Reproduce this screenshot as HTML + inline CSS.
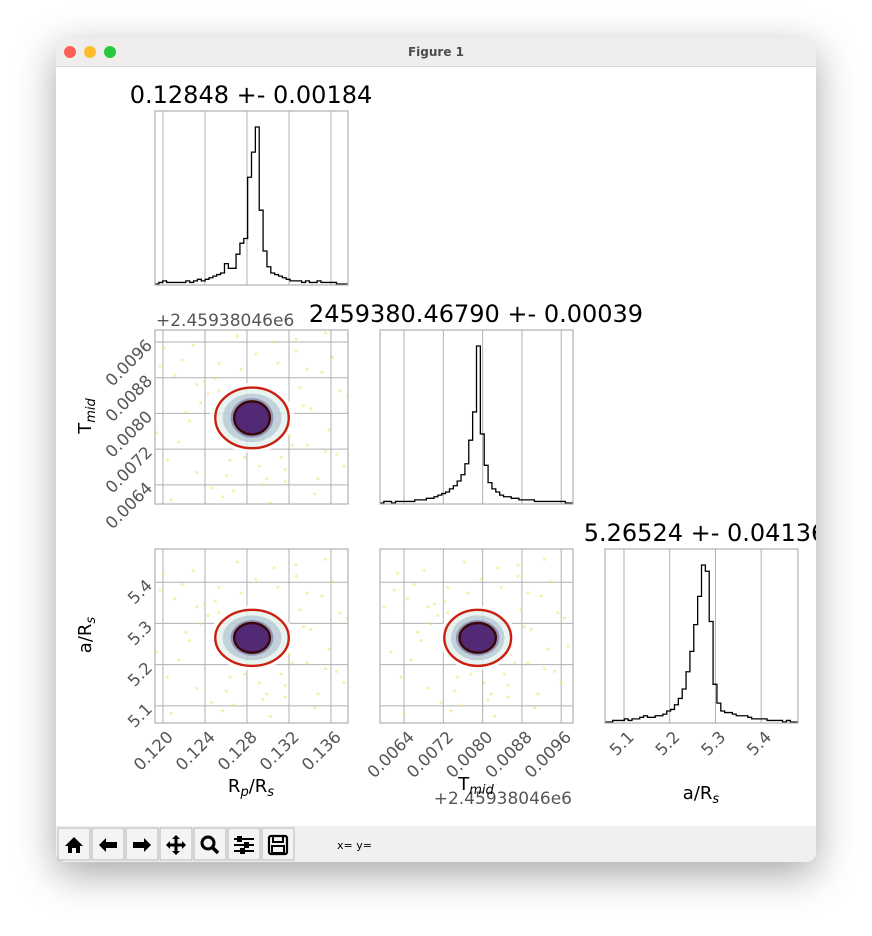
<!DOCTYPE html>
<html><head><meta charset="utf-8">
<style>
html,body{margin:0;padding:0;background:#fff;width:872px;height:936px;overflow:hidden;font-family:"DejaVu Sans","Liberation Sans",sans-serif;}
#win{position:absolute;left:56px;top:38px;width:760px;height:824px;border-radius:10px;background:#fff;box-shadow:0 12px 40px rgba(0,0,0,0.35);overflow:hidden;}
#tb{position:absolute;left:0;top:0;width:760px;height:28px;background:#f0eeec;border-bottom:1px solid #d8d6d4;}
#tbar{position:absolute;left:0;top:788px;width:760px;height:36px;background:#f0f0f0;}
svg{position:absolute;left:0;top:0;}
</style></head><body>
<div id="win">
 <div id="tb"></div>
 <div id="tbar"></div>
</div>
<svg id="chart" width="872" height="936"></svg>
<script>
// ---- data ----
const rpTicks=[0.120,0.124,0.128,0.132,0.136];
const tTicks=[0.0064,0.0072,0.0080,0.0088,0.0096];
const aTicks=[5.1,5.2,5.3,5.4];
const rpTickLabels=["0.120","0.124","0.128","0.132","0.136"];
const tTickLabels=["0.0064","0.0072","0.0080","0.0088","0.0096"];
const aTickLabels=["5.1","5.2","5.3","5.4"];
const rpHist=[0,1,2,1,1,1,1,1,2,1,2,3,2,3,4,5,6,7,13,10,10,19,26,29,68,84,100,47,21,11,7,6,5,4,3,2,2,2,1,2,1,1,2,1,1,1,1,0,0,0];
const tHist=[0,1,1,0,1,1,1,1,1,2,2,2,3,3,4,5,6,7,9,11,14,18,25,40,58,100,44,24,13,9,7,5,4,4,3,3,2,2,2,2,1,1,1,1,1,1,1,1,0,0];
const aHist=[0,0,1,1,1,2,1,2,2,3,4,3,3,4,4,5,7,8,11,15,21,32,45,62,80,100,96,64,24,12,7,6,6,5,4,4,4,3,2,2,2,2,1,1,1,1,0,1,0,0];
const means={rp:0.12848,t:0.00790,a:5.265};
const darkHalf={rp:0.0017,t:0.00037,a:0.036};
const redHalf={rp:0.0035,t:0.00068,a:0.068};
// outlier points in units of red-contour half widths
const outU=[-2.1,1.8,-1.5,2.4,0.6,-2.6,1.2,-0.8,2.0,-1.9,0.3,2.7,-2.3,1.5,-0.4,-1.2,2.2,-2.8,0.9,1.7,-0.2,-1.6,2.5,-0.9,1.1,-2.4,0.5,2.9,-1.1,1.4,
 -1.3,1.3,-0.6,0.8,-1.8,2.1,-0.3,1.6,-2.0,0.2,1.9,-1.4,0.7,-0.7,2.3,-2.5,1.0,-1.0,0.4,-1.7,1.2,-0.5,2.6,-2.2,0.1,1.5,-1.5,0.9,-0.9,2.0];
const outV=[1.4,-2.0,-1.8,0.9,2.5,-0.5,2.2,-2.6,-1.1,1.9,-2.2,-0.3,-1.4,1.6,2.7,0.8,2.0,1.1,-1.7,-2.5,-1.3,2.4,-1.6,1.8,-0.9,2.3,-2.8,1.3,-2.3,0.4,
 1.2,1.0,-1.4,-1.3,0.2,-0.4,1.6,0.3,-0.8,-1.6,1.5,0.5,1.8,-1.9,-1.2,1.7,-0.6,1.3,-2.0,-0.1,2.6,-2.4,0.7,-2.7,2.1,-0.9,1.1,-2.1,0.9,2.8];

const NS='http://www.w3.org/2000/svg';
const svg=document.getElementById('chart');
function mk(t,a,p){const e=document.createElementNS(NS,t);for(const k in a)e.setAttribute(k,a[k]);(p||svg).appendChild(e);return e;}
function lin(d0,d1,r0,r1){return v=>r0+(v-d0)/(d1-d0)*(r1-r0);}
const rng={rp:[0.11924,0.13762],tx:[0.00591,0.00984],ty:[0.00597,0.00987],a:[5.0585,5.4805]};
const cols=[155,380,605], rows=[111,330,549], W=193, H=174;
const gridC='#b0b0b0', tickC='#555';

// ---- window chrome ----
[['#fe5f57',70],['#febc2e',90],['#28c840',110]].forEach((c,i)=>{
 const e=mk('circle',{cx:c[1],cy:52,r:6,fill:c[0]});
 
 
});
let tt=mk('text',{x:436,y:56,'text-anchor':'middle','font-size':12,'font-weight':'bold',fill:'#4d4d4d'});tt.textContent='Figure 1';


function axes(x0,y0,sx,sy,xt,yt,name){
 const g=mk('g',{});
 
 if(xt)xt.forEach(v=>mk('line',{x1:sx(v),x2:sx(v),y1:y0,y2:y0+H,stroke:gridC,'stroke-width':1},g));
 if(yt)yt.forEach(v=>mk('line',{x1:x0,x2:x0+W,y1:sy(v),y2:sy(v),stroke:gridC,'stroke-width':1},g));
 return g;
}
function frame(x0,y0){mk('rect',{x:x0,y:y0,width:W,height:H,fill:'none',stroke:gridC,'stroke-width':1.2});}
function xlabels(x0,y0,sx,ticks,labels,name){
 ticks.forEach((v,i)=>{const x=sx(v)+4,y=y0+H+8;
  const t=mk('text',{x:x,y:y+10,'text-anchor':'end','font-size':16.5,fill:tickC,transform:`rotate(-45 ${x} ${y})`});
  t.textContent=labels[i];});
}
function ylabels(x0,sy,ticks,labels,name){
 ticks.forEach((v,i)=>{const x=x0-6,y=sy(v);
  const t=mk('text',{x:x,y:y+6,'text-anchor':'end','font-size':16.5,fill:tickC,transform:`rotate(-45 ${x} ${y})`});
  t.textContent=labels[i];});
}
function hist(ci,ri,vals,sx,ticks,name){
 const x0=cols[ci],y0=rows[ri];
 axes(x0,y0,sx,null,ticks,null,name+'-grid');
 const mx=Math.max(...vals), n=vals.length, bw=W/n;
 const sy=lin(0,mx,y0+H-1,y0+16);
 let d=`M${x0} ${y0+H-1}`;
 vals.forEach((v,i)=>{d+=` L${x0+i*bw} ${sy(v)} L${x0+(i+1)*bw} ${sy(v)}`;});
 d+=` L${x0+W} ${y0+H-1}`;
 const p=mk('path',{d:d,fill:'none',stroke:'#000','stroke-width':1.3});
 
 frame(x0,y0);
}
function scatter(ci,ri,sx,sy,kx,ky,xt,yt,name){
 const x0=cols[ci],y0=rows[ri];
 const g=axes(x0,y0,sx,sy,xt,yt,name+'-grid');
 const clip='c'+ci+ri;
 const cp=mk('clipPath',{id:clip});mk('rect',{x:x0,y:y0,width:W,height:H},cp);
 const pg=mk('g',{'clip-path':`url(#${clip})`});
 
 outU.forEach((u,i)=>{
  mk('circle',{cx:sx(means[kx]+u*redHalf[kx]),cy:sy(means[ky]+outV[i]*redHalf[ky]),r:1.5,fill:'#efe35a','fill-opacity':0.55},pg);
 });
 const cx=sx(means[kx]),cy=sy(means[ky]);
 const rx=sx(means[kx]+redHalf[kx])-cx, ry=cy-sy(means[ky]+redHalf[ky]);
 const drx=sx(means[kx]+darkHalf[kx])-cx, dry=cy-sy(means[ky]+darkHalf[ky]);
 mk('ellipse',{cx:cx,cy:cy,rx:rx*1.15,ry:ry*1.15,fill:'#ffffff','fill-opacity':0.8},pg);
 mk('ellipse',{cx:cx,cy:cy,rx:rx*1.02,ry:ry*1.02,fill:'#9fd4c4','fill-opacity':0.25},pg);
 mk('ellipse',{cx:cx,cy:cy,rx:rx*0.8,ry:ry*0.8,fill:'#6b86a8','fill-opacity':0.3},pg);
 mk('ellipse',{cx:cx,cy:cy,rx:drx*1.2,ry:dry*1.2,fill:'#5a4a8f','fill-opacity':0.45},pg);
 mk('ellipse',{cx:cx,cy:cy,rx:drx,ry:dry,fill:'#4b1d6e','fill-opacity':0.9},pg);
 const r=mk('ellipse',{cx:cx,cy:cy,rx:rx,ry:ry,fill:'none',stroke:'#cc1f10','stroke-width':2.4},pg);
 
 const dk=mk('ellipse',{cx:cx,cy:cy,rx:drx,ry:dry,fill:'none',stroke:'#3a0808','stroke-width':2.4},pg);
 
 frame(x0,y0);
}
const sRp=lin(rng.rp[0],rng.rp[1],cols[0],cols[0]+W);
const sTx=lin(rng.tx[0],rng.tx[1],cols[1],cols[1]+W);
const sAx=lin(rng.a[0],rng.a[1],cols[2],cols[2]+W);
const sTy=lin(rng.ty[0],rng.ty[1],rows[1]+H,rows[1]);
const sAy=lin(rng.a[0],rng.a[1],rows[2]+H,rows[2]);

hist(0,0,rpHist,sRp,rpTicks,'rp-histogram');
hist(1,1,tHist,sTx,tTicks,'tmid-histogram');
hist(2,2,aHist,sAx,aTicks,'a-histogram');
scatter(0,1,sRp,sTy,'rp','t',rpTicks,tTicks,'rp-vs-tmid');
scatter(0,2,sRp,sAy,'rp','a',rpTicks,aTicks,'rp-vs-a');
scatter(1,2,sTx,sAy,'t','a',tTicks,aTicks,'tmid-vs-a');
ylabels(cols[0],sTy,tTicks,tTickLabels,'tmid-y');
ylabels(cols[0],sAy,aTicks,aTickLabels,'a-y');
xlabels(cols[0],rows[2],sRp,rpTicks,rpTickLabels,'rp-x');
xlabels(cols[1],rows[2],sTx,tTicks,tTickLabels,'tmid-x');
xlabels(cols[2],rows[2],sAx,aTicks,aTickLabels,'a-x');

function txt(x,y,s,size,attrs,name,html){
 const t=mk('text',Object.assign({x:x,y:y,'font-size':size,fill:'#000'},attrs||{}));
 if(html)t.innerHTML=s;else t.textContent=s;
 return t;
}
const cp2=mk('clipPath',{id:'winclip'});mk('rect',{x:56,y:38,width:760,height:824},cp2);
txt(251,103,'0.12848 +- 0.00184',24,{'text-anchor':'middle'},'rp-title');
txt(476,322,'2459380.46790 +- 0.00039',24,{'text-anchor':'middle'},'tmid-title');
txt(705,541,'5.26524 +- 0.04136',24,{'text-anchor':'middle','clip-path':'url(#winclip)'},'a-title');
txt(156,326,'+2.45938046e6',17,{fill:'#555'},'tmid-y-offset');
txt(572,804,'+2.45938046e6',17,{fill:'#555','text-anchor':'end'},'tmid-x-offset');
txt(251,792,'R<tspan font-size="13" dy="4" font-style="italic">p</tspan><tspan dy="-4">/R</tspan><tspan font-size="13" dy="4" font-style="italic">s</tspan>',18,{'text-anchor':'middle'},'rp-x-title',true);
txt(476,790,'T<tspan font-size="13" dy="4" font-style="italic">mid</tspan>',18,{'text-anchor':'middle'},'tmid-x-title',true);
txt(701,799,'a/R<tspan font-size="13" dy="4" font-style="italic">s</tspan>',18,{'text-anchor':'middle'},'a-x-title',true);
txt(0,0,'T<tspan font-size="13" dy="4" font-style="italic">mid</tspan>',18,{'text-anchor':'middle',transform:'translate(91 416) rotate(-90)'},'tmid-y-title',true);
txt(0,0,'a/R<tspan font-size="13" dy="4" font-style="italic">s</tspan>',18,{'text-anchor':'middle',transform:'translate(91 635) rotate(-90)'},'a-y-title',true);

// ---- toolbar buttons ----
const btnNames=['home-button','back-button','forward-button','pan-button','zoom-rect-button','configure-button','save-button'];
const icons=[
 'M-9 1 L0 -8 L9 1 L6 1 L6 8 L2 8 L2 3 L-2 3 L-2 8 L-6 8 L-6 1 Z',
 'M-9 0 L-2 -7 L-2 -3 L9 -3 L9 3 L-2 3 L-2 7 Z',
 'M9 0 L2 -7 L2 -3 L-9 -3 L-9 3 L2 3 L2 7 Z',
 'M0 -10 L4 -6 L1.5 -6 L1.5 -1.5 L6 -1.5 L6 -4 L10 0 L6 4 L6 1.5 L1.5 1.5 L1.5 6 L4 6 L0 10 L-4 6 L-1.5 6 L-1.5 1.5 L-6 1.5 L-6 4 L-10 0 L-6 -4 L-6 -1.5 L-1.5 -1.5 L-1.5 -6 L-4 -6 Z',
 '', '', ''];
btnNames.forEach((n,i)=>{
 const bx=58+i*34, cx=bx+16, cy=845;
 const g=mk('g',{});
 
 mk('rect',{x:bx,y:828,width:32,height:32,fill:'#f4f4f4',stroke:'#b8b8b8','stroke-width':1},g);
 if(icons[i])mk('path',{d:icons[i],transform:`translate(${cx} ${cy})`,fill:'#000'},g);
 if(i==4){mk('circle',{cx:cx-2,cy:cy-2,r:6,fill:'none',stroke:'#000','stroke-width':3},g);mk('line',{x1:cx+2,y1:cy+2,x2:cx+8,y2:cy+8,stroke:'#000','stroke-width':3.5},g);}
 if(i==5){[-6,0,6].forEach((d,k)=>{mk('line',{x1:cx-10,x2:cx+10,y1:cy+d,y2:cy+d,stroke:'#000','stroke-width':2},g);mk('rect',{x:cx+[-5,2,-2][k]-2,y:cy+d-3,width:5,height:6,fill:'#000'},g);});}
 if(i==6){mk('rect',{x:cx-9,y:cy-9,width:18,height:18,rx:2,fill:'none',stroke:'#000','stroke-width':2.2},g);mk('rect',{x:cx-5,y:cy-9,width:10,height:6,fill:'none',stroke:'#000','stroke-width':2},g);mk('rect',{x:cx-6,y:cy+1,width:12,height:7,fill:'none',stroke:'#000','stroke-width':2},g);}
});
txt(337,849,'x= y=',11,{},'coordinates-readout');
</script>
</body></html>
